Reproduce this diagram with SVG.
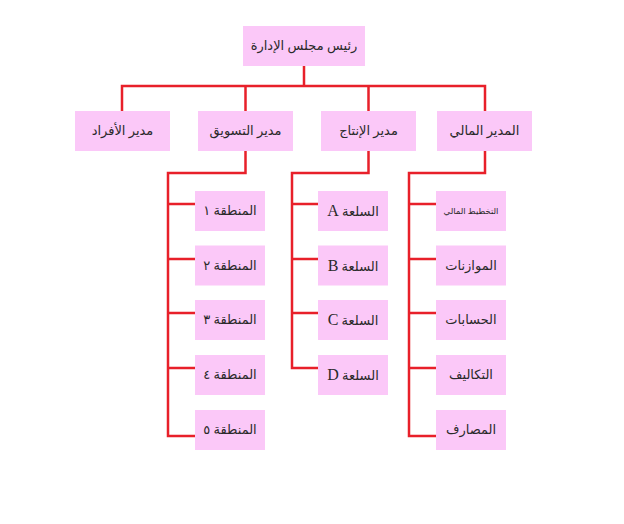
<svg xmlns="http://www.w3.org/2000/svg" width="624" height="524" viewBox="0 0 624 524">
<style>
.box{fill:#FBC8F8;stroke:none}
.t{font-family:"Liberation Serif","DejaVu Sans",serif;font-size:13px;fill:#2a2a2a;text-anchor:middle;direction:rtl}
.s{font-size:8.5px}
.l{font-size:16px}
.c{fill:none;stroke:#E8202A;stroke-width:2.5;stroke-linejoin:miter}
</style>
<rect width="624" height="524" fill="#fff"/>
<g id="connectors">
<path class="c" d="M304 66V86M122 111V86H485V111M245.5 86V111M368.5 86V111"/>
<path class="c" d="M245.5 151V173H168V436H195M168 204H195M168 259H195M168 313H195M168 368H195"/>
<path class="c" d="M368.5 151V173H292V368H318M292 204H318M292 259H318M292 313H318"/>
<path class="c" d="M485 151V173H409V436H436M409 204H436M409 259H436M409 313H436M409 368H436"/>
</g>
<g id="chairman"><rect class="box" x="243" y="26" width="122" height="40"/><text class="t" x="304" y="50">رئيس مجلس الإدارة</text></g>
<g id="hr"><rect class="box" x="75" y="111" width="95" height="40"/><text class="t" x="122.5" y="135">مدير الأفراد</text></g>
<g id="marketing"><rect class="box" x="198" y="111" width="95" height="40"/><text class="t" x="245.5" y="135">مدير التسويق</text></g>
<g id="production"><rect class="box" x="321" y="111" width="95" height="40"/><text class="t" x="368.5" y="135">مدير الإنتاج</text></g>
<g id="finance"><rect class="box" x="437" y="111" width="95" height="40"/><text class="t" x="484.5" y="135">المدير المالي</text></g>
<g id="region1"><rect class="box" x="195" y="191" width="70" height="40"/><text class="t" x="230" y="215">المنطقة ١</text></g>
<g id="region2"><rect class="box" x="195" y="245.5" width="70" height="40"/><text class="t" x="230" y="269.5">المنطقة ٢</text></g>
<g id="region3"><rect class="box" x="195" y="300" width="70" height="40"/><text class="t" x="230" y="324">المنطقة ٣</text></g>
<g id="region4"><rect class="box" x="195" y="355" width="70" height="40"/><text class="t" x="230" y="379">المنطقة ٤</text></g>
<g id="region5"><rect class="box" x="195" y="410" width="70" height="40"/><text class="t" x="230" y="434">المنطقة ٥</text></g>
<g id="productA"><rect class="box" x="318" y="191" width="70" height="40"/><text class="t" x="353" y="216">السلعة <tspan class="l">A</tspan></text></g>
<g id="productB"><rect class="box" x="318" y="245.5" width="70" height="40"/><text class="t" x="353" y="270.5">السلعة <tspan class="l">B</tspan></text></g>
<g id="productC"><rect class="box" x="318" y="300" width="70" height="40"/><text class="t" x="353" y="325">السلعة <tspan class="l">C</tspan></text></g>
<g id="productD"><rect class="box" x="318" y="355" width="70" height="40"/><text class="t" x="353" y="380">السلعة <tspan class="l">D</tspan></text></g>
<g id="planning"><rect class="box" x="436" y="191" width="70" height="40"/><text class="t s" x="471" y="214">التخطيط المالي</text></g>
<g id="budgets"><rect class="box" x="436" y="245.5" width="70" height="40"/><text class="t" x="471" y="269.5">الموازنات</text></g>
<g id="accounts"><rect class="box" x="436" y="300" width="70" height="40"/><text class="t" x="471" y="324">الحسابات</text></g>
<g id="costs"><rect class="box" x="436" y="355" width="70" height="40"/><text class="t" x="471" y="379">التكاليف</text></g>
<g id="expenses"><rect class="box" x="436" y="410" width="70" height="40"/><text class="t" x="471" y="434">المصارف</text></g>
</svg>
